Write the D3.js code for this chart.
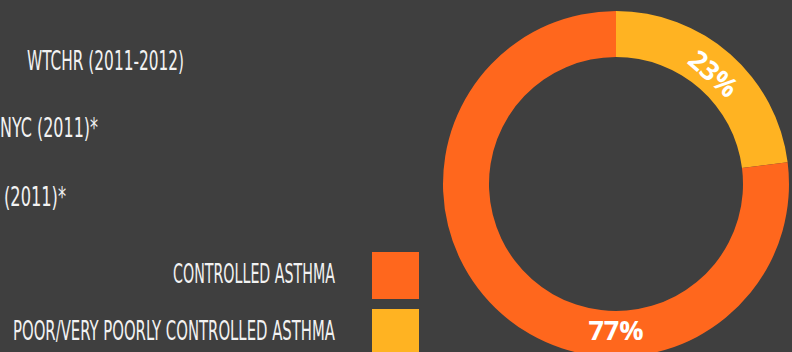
<!DOCTYPE html>
<html><head><meta charset="utf-8">
<script src="https://cdn.jsdelivr.net/npm/d3@7/dist/d3.min.js"></script>
<style>
html,body{margin:0;padding:0;background:#3f3f3f;overflow:hidden;}
svg{display:block;}
</style></head>
<body>
<svg id="chart" width="792" height="352"></svg>
<script>
const categories = ["CONTROLLED ASTHMA", "POOR/VERY POORLY CONTROLLED ASTHMA"];
const values = [77, 23];
const colors = ["#FF671D", "#FFB322"];
const sideLabels = ["WTCHR (2011-2012)", "NYC (2011)*", "(2011)*"];

const svg = d3.select("#chart");
const W = 792, H = 352;
svg.append("rect").attr("width", W).attr("height", H).attr("fill", "#3f3f3f");

const condFont = "'Liberation Sans Narrow','DejaVu Sans Condensed','Arial Narrow',sans-serif";

// side labels (partially cut at the left edge)
const sideX = [27, 0, 4];
const sideW = [157, 98, 62];
const sideY = [70, 137, 206];
svg.selectAll("text.side").data(sideLabels).join("text")
  .attr("class", "side")
  .attr("x", (d, i) => sideX[i])
  .attr("y", (d, i) => sideY[i])
  .attr("textLength", (d, i) => sideW[i])
  .attr("lengthAdjust", "spacingAndGlyphs")
  .attr("fill", "#f2f2f2")
  .style("font-family", condFont)
  .style("font-size", "26px")
  .text(d => d);

// donut
const cx = 616, cy = 184, rOuter = 173, rInner = 127;
const g = svg.append("g").attr("transform", `translate(${cx},${cy})`);
const data = categories.map((c, i) => ({ cat: c, value: values[i], color: colors[i] }));
// poor control segment starts at the top, going clockwise
const pie = d3.pie().value(d => d.value).sort(null);
const arcs = pie([data[1], data[0]]);
const arc = d3.arc().innerRadius(rInner).outerRadius(rOuter);
g.selectAll("path").data(arcs).join("path")
  .attr("d", arc)
  .attr("fill", d => d.data.color);

const total = d3.sum(values);
const rLabel = 147;
g.selectAll("text.pct").data(arcs).join("text")
  .attr("class", "pct")
  .attr("transform", d => {
    const frac = d.data.value / total;
    let a = frac < 0.5 ? (d.startAngle + d.endAngle) / 2 : Math.PI;
    const x = rLabel * Math.sin(a), y = -rLabel * Math.cos(a);
    let deg = a * 180 / Math.PI;
    if (deg > 90 && deg < 270) deg -= 180;
    return `translate(${x},${y}) rotate(${deg})`;
  })
  .attr("text-anchor", "middle")
  .attr("dy", "0.35em")
  .attr("fill", "#ffffff")
  .style("font-family", "'Open Sans','Noto Sans',sans-serif")
  .style("font-weight", "700")
  .style("font-size", "27px")
  .text(d => Math.round(d.data.value / total * 100) + "%");

// legend
const legY0 = 252, legStep = 57, sw = 47, swX = 372, textRight = 335;
const legW = [162, 322];
const leg = svg.selectAll("g.leg").data(data).join("g")
  .attr("class", "leg")
  .attr("transform", (d, i) => `translate(0,${legY0 + i * legStep})`);
leg.append("rect").attr("x", swX).attr("y", 0).attr("width", sw).attr("height", sw)
  .attr("fill", d => d.color);
leg.append("text")
  .attr("x", (d, i) => textRight - legW[i])
  .attr("y", 31)
  .attr("textLength", (d, i) => legW[i])
  .attr("lengthAdjust", "spacingAndGlyphs")
  .attr("fill", "#f2f2f2")
  .style("font-family", condFont)
  .style("font-size", "26px")
  .text(d => d.cat);
</script>
</body></html>
